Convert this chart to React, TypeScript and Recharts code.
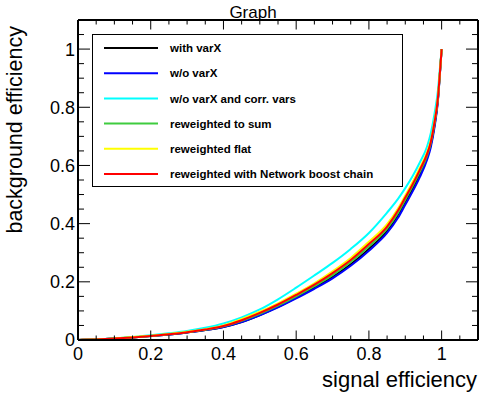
import React from 'react';
import { LineChart, Line, XAxis, YAxis, Legend, Label } from 'recharts';

const sigEff = [0, 0.05, 0.1, 0.15, 0.2, 0.25, 0.3, 0.35, 0.4, 0.45, 0.5, 0.55, 0.6, 0.65, 0.7, 0.75, 0.8, 0.85, 0.88, 0.9, 0.92, 0.94, 0.96, 0.97, 0.98, 0.99, 0.995, 1];
const withVarX = [0, 0.002, 0.005, 0.009, 0.014, 0.019, 0.026, 0.034, 0.045, 0.062, 0.086, 0.114, 0.146, 0.18, 0.217, 0.26, 0.313, 0.375, 0.43, 0.475, 0.52, 0.57, 0.628, 0.67, 0.735, 0.83, 0.912, 1];
const woVarX = [0, 0.002, 0.005, 0.009, 0.014, 0.019, 0.026, 0.034, 0.045, 0.062, 0.085, 0.112, 0.143, 0.176, 0.212, 0.255, 0.307, 0.368, 0.42, 0.465, 0.51, 0.56, 0.62, 0.662, 0.728, 0.825, 0.91, 1];
const woVarXCorr = [0, 0.002, 0.006, 0.01, 0.016, 0.023, 0.031, 0.042, 0.057, 0.078, 0.105, 0.14, 0.18, 0.222, 0.265, 0.313, 0.368, 0.438, 0.485, 0.522, 0.563, 0.61, 0.665, 0.71, 0.775, 0.86, 0.93, 1];
const rewSum = [0, 0.002, 0.005, 0.009, 0.014, 0.02, 0.027, 0.035, 0.047, 0.066, 0.09, 0.118, 0.15, 0.185, 0.223, 0.268, 0.322, 0.383, 0.437, 0.482, 0.528, 0.578, 0.634, 0.675, 0.74, 0.832, 0.913, 1];
const rewFlat = [0, 0.002, 0.005, 0.01, 0.015, 0.021, 0.028, 0.037, 0.05, 0.072, 0.097, 0.126, 0.159, 0.195, 0.236, 0.282, 0.338, 0.398, 0.452, 0.497, 0.542, 0.592, 0.646, 0.686, 0.75, 0.838, 0.917, 1];
const rewNet = [0, 0.002, 0.005, 0.009, 0.014, 0.02, 0.027, 0.036, 0.048, 0.068, 0.093, 0.122, 0.155, 0.19, 0.23, 0.275, 0.33, 0.39, 0.445, 0.49, 0.535, 0.585, 0.64, 0.68, 0.745, 0.835, 0.915, 1];

const seriesKeys = ['withVarX', 'woVarX', 'woVarXCorr', 'rewSum', 'rewFlat', 'rewNet'];
const seriesNames = ['with varX', 'w/o varX', 'w/o varX and corr. vars', 'reweighted to sum', 'reweighted flat', 'reweighted with Network boost chain'];
const seriesColors = ['#000000', '#0000ff', '#00ffff', '#3fcc3f', '#ffff00', '#ff0000'];
const seriesValues = [withVarX, woVarX, woVarXCorr, rewSum, rewFlat, rewNet];

const tickValues = [0, 0.05, 0.1, 0.15, 0.2, 0.25, 0.3, 0.35, 0.4, 0.45, 0.5, 0.55, 0.6, 0.65, 0.7, 0.75, 0.8, 0.85, 0.9, 0.95, 1, 1.05];
const majorTicks = [0, 0.2, 0.4, 0.6, 0.8, 1];
const tickLabels = ['0', '0.2', '0.4', '0.6', '0.8', '1'];

const titleText = 'Graph';
const xTitle = 'signal efficiency';
const yTitle = 'background efficiency';

const FONT = '"Liberation Sans", Arial, Helvetica, sans-serif';

const data = sigEff.map((x, i) => {
  const row: any = { x };
  seriesKeys.forEach((k, j) => { row[k] = seriesValues[j][i]; });
  return row;
});

const majorIndex = (v: number) => majorTicks.findIndex((m) => Math.abs(m - v) < 1e-6);

const BottomTick = (props: any) => {
  const { x, y, payload } = props;
  const mi = majorIndex(payload.value);
  const len = mi >= 0 ? 9.5 : 4.5;
  return (
    <g>
      <line x1={x} x2={x} y1={y} y2={y - len} stroke="#000" strokeWidth={1} />
      {mi >= 0 && (
        <text x={x} y={y + 20} textAnchor="middle" fontSize={18} fontFamily={FONT} fill="#000">{tickLabels[mi]}</text>
      )}
    </g>
  );
};

const TopTick = (props: any) => {
  const { x, y, payload } = props;
  const mi = majorIndex(payload.value);
  const len = mi >= 0 ? 9.5 : 4.5;
  return <line x1={x} x2={x} y1={y} y2={y + len} stroke="#000" strokeWidth={1} />;
};

const LeftTick = (props: any) => {
  const { x, y, payload } = props;
  const mi = majorIndex(payload.value);
  const len = mi >= 0 ? 12 : 6;
  return (
    <g>
      <line x1={x} x2={x + len} y1={y} y2={y} stroke="#000" strokeWidth={1} />
      {mi >= 0 && (
        <text x={x - 3} y={y} dy="0.36em" textAnchor="end" fontSize={18} fontFamily={FONT} fill="#000">{tickLabels[mi]}</text>
      )}
    </g>
  );
};

const RightTick = (props: any) => {
  const { x, y, payload } = props;
  const mi = majorIndex(payload.value);
  const len = mi >= 0 ? 12 : 6;
  return <line x1={x} x2={x - len} y1={y} y2={y} stroke="#000" strokeWidth={1} />;
};

const renderLegend = (props: any) => {
  const items = [...(props.payload || [])].sort(
    (a: any, b: any) => seriesNames.indexOf(a.value) - seriesNames.indexOf(b.value)
  );
  return (
    <svg width={311} height={153} style={{ display: 'block' }}>
      <rect x={0.5} y={0.5} width={310} height={152} fill="#fff" stroke="#000" strokeWidth={1} />
      {items.map((it: any, i: number) => {
        const cy = 14 + i * 25.2;
        return (
          <g key={i}>
            <line x1={12} x2={66} y1={cy} y2={cy} stroke={it.color} strokeWidth={2} />
            <text x={78} y={cy} dy="0.36em" fontSize={11.5} fontWeight="bold" fontFamily={FONT} fill="#000">{it.value}</text>
          </g>
        );
      })}
    </svg>
  );
};

const XTitle = (props: any) => {
  const vb = props.viewBox || { x: 78, y: 340, width: 400, height: 57 };
  return <text x={vb.x + vb.width - 1} y={vb.y + 47} textAnchor="end" fontSize={22} fontFamily={FONT} fill="#000">{xTitle}</text>;
};

const TopTitle = (props: any) => {
  const vb = props.viewBox || { x: 78, y: 0, width: 400, height: 20 };
  return <text x={vb.x + 175} y={vb.y + 18} textAnchor="middle" fontSize={17} fontFamily={FONT} fill="#000">{titleText}</text>;
};

const YTitle = (props: any) => {
  const vb = props.viewBox || { x: 0, y: 20, width: 78, height: 320 };
  return (
    <text transform={`translate(${vb.x + 21.5},${vb.y + 6}) rotate(-90)`} textAnchor="end" fontSize={21.5} fontFamily={FONT} fill="#000">{yTitle}</text>
  );
};

export default function App() {
  return (
    <div style={{ position: 'absolute', left: 0, top: 0, width: 480, height: 397, background: '#fff' }}>
      <LineChart width={480} height={397} data={data} margin={{ top: 0, right: 0, bottom: 0, left: 0 }}>
        <XAxis xAxisId="b" orientation="bottom" type="number" dataKey="x" domain={[0, 1.1]} ticks={tickValues} interval={0}
          height={57} tickSize={0} tickMargin={0} tickLine={false} axisLine={{ stroke: '#000', strokeWidth: 2 }} tick={BottomTick} allowDataOverflow>
          <Label content={XTitle} />
        </XAxis>
        <XAxis xAxisId="t" orientation="top" type="number" dataKey="x" domain={[0, 1.1]} ticks={tickValues} interval={0}
          height={20} tickSize={0} tickMargin={0} tickLine={false} axisLine={{ stroke: '#000', strokeWidth: 2 }} tick={TopTick} allowDataOverflow>
          <Label content={TopTitle} />
        </XAxis>
        <YAxis yAxisId="l" orientation="left" type="number" domain={[0, 1.1]} ticks={tickValues} interval={0}
          width={78} tickSize={0} tickMargin={0} tickLine={false} axisLine={{ stroke: '#000', strokeWidth: 2 }} tick={LeftTick} allowDataOverflow>
          <Label content={YTitle} />
        </YAxis>
        <YAxis yAxisId="r" orientation="right" type="number" domain={[0, 1.1]} ticks={tickValues} interval={0}
          width={2} tickSize={0} tickMargin={0} tickLine={false} axisLine={{ stroke: '#000', strokeWidth: 2 }} tick={RightTick} allowDataOverflow />
        <Legend content={renderLegend} layout="horizontal" verticalAlign="middle"
          wrapperStyle={{ position: 'absolute', left: 92, top: 34, width: 311, height: 153 }} />
        {seriesKeys.map((k, i) => (
          <Line key={k} xAxisId="b" yAxisId="l" type="monotone" dataKey={k} name={seriesNames[i]} stroke={seriesColors[i]}
            strokeWidth={2} dot={false} activeDot={false} isAnimationActive={false} />
        ))}
      </LineChart>
    </div>
  );
}
